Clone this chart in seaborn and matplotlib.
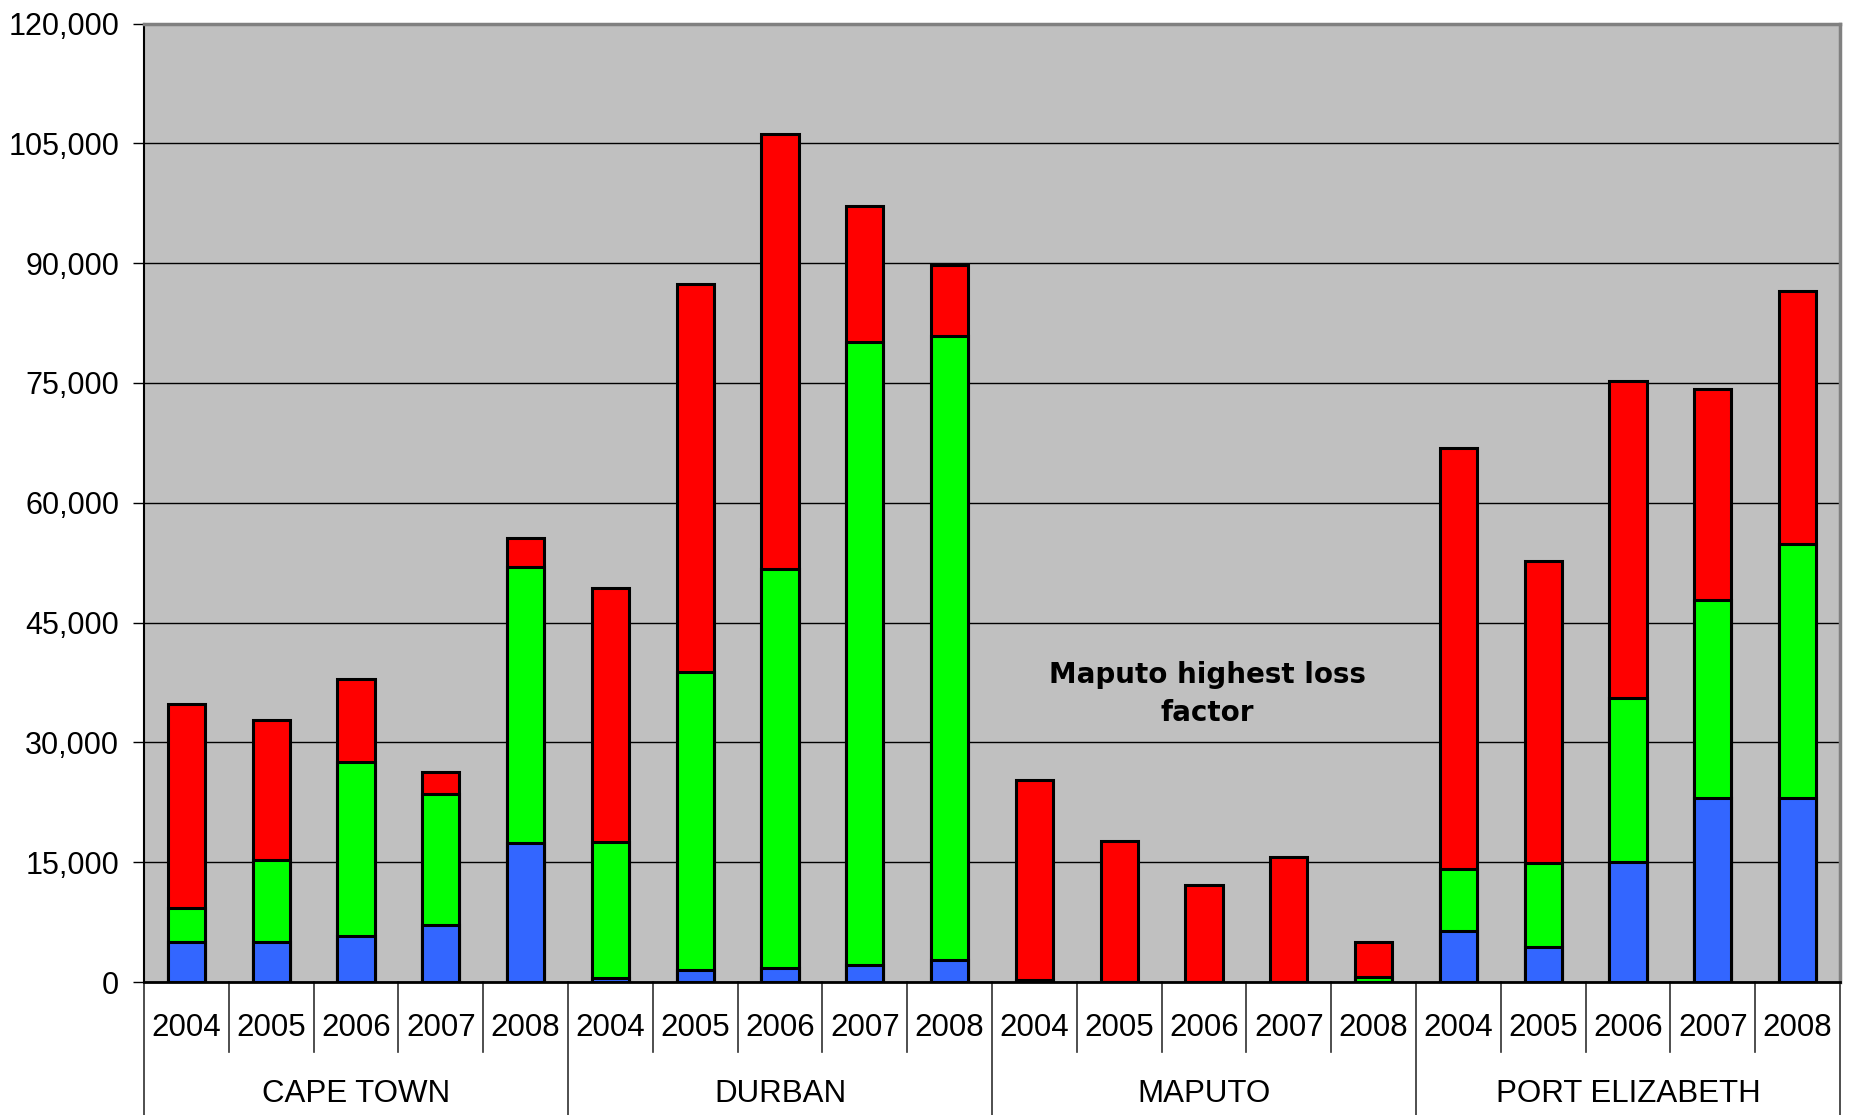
import numpy as np
import pandas as pd
import matplotlib
matplotlib.use("Agg")
import matplotlib.pyplot as plt
import seaborn as sns

plt.rcParams['font.family'] = ['Liberation Sans', 'DejaVu Sans']

cities = ["CAPE TOWN", "DURBAN", "MAPUTO", "PORT ELIZABETH"]
years = ["2004", "2005", "2006", "2007", "2008"]

# segment values (bottom: blue, middle: green, top: red)
blue = [5000, 5000, 5700, 7100, 17400,
        450, 1500, 1800, 2100, 2700,
        0, 0, 0, 0, 0,
        6400, 4400, 15000, 23100, 23100]
green = [4300, 10300, 21800, 16400, 34600,
         17050, 37300, 49900, 78000, 78200,
         250, 0, 0, 0, 600,
         7700, 10500, 20500, 24700, 31800]
red = [25500, 17500, 10400, 2800, 3600,
       31800, 48600, 54500, 17100, 8900,
       25050, 17600, 12100, 15700, 4400,
       52800, 37800, 39800, 26500, 31600]

yticks = [0, 15000, 30000, 45000, 60000, 75000, 90000, 105000, 120000]
annotation = "Maputo highest loss\nfactor"

cats = [f"{c} {y}" for c in cities for y in years]
df = pd.DataFrame({"cat": cats, "blue": blue, "green": green, "red": red})
df["top_green"] = df["blue"] + df["green"]
df["top_red"] = df["top_green"] + df["red"]

fig = plt.figure(figsize=(18.51, 11.15), dpi=100)
ax = fig.add_axes([144 / 1851, 1 - 982 / 1115, (1840 - 144) / 1851, (982 - 23.6) / 1115])
ax.set_facecolor("#C0C0C0")

common = dict(x="cat", order=cats, edgecolor="black", linewidth=2.2, width=0.44,
              saturation=1, errorbar=None, ax=ax, zorder=3)
sns.barplot(data=df, y="top_red", color="#FF0000", **common)
sns.barplot(data=df, y="top_green", color="#00FF00", **common)
sns.barplot(data=df[df["blue"] > 0], y="blue", color="#3366FF", **common)

ax.set_xlim(-0.5, len(cats) - 0.5)
ax.set_ylim(0, 120000)
ax.set_yticks(yticks)
ax.set_yticklabels([f"{v:,}" for v in yticks], fontsize=22)
ax.tick_params(axis="y", length=8, width=1, pad=10, color="black")
ax.set_xticks([])
ax.set_xlabel("")
ax.set_ylabel("")
ax.yaxis.grid(True, color="black", linewidth=1.0)
ax.set_axisbelow(True)

for s in ["top", "right"]:
    ax.spines[s].set_color("#808080")
    ax.spines[s].set_linewidth(2.5)
ax.spines["left"].set_color("black")
ax.spines["left"].set_linewidth(1.5)
ax.spines["bottom"].set_color("black")
ax.spines["bottom"].set_linewidth(2.0)

n = len(cats)
axh = 982 - 23.6
y_year_sep = -(1052 - 982) / axh
y_city_sep = -(1115 - 982) / axh
y_year_lab = -(1028 - 982) / axh
y_city_lab = -(1094 - 982) / axh

for i in range(n + 1):
    x = i / n
    ybot = y_city_sep if i % len(years) == 0 else y_year_sep
    ax.plot([x, x], [0, ybot], transform=ax.transAxes, color="#303030",
            linewidth=1.2, clip_on=False)

for i, c in enumerate(cats):
    ax.text((i + 0.5) / n, y_year_lab, years[i % len(years)], transform=ax.transAxes,
            ha="center", va="center", fontsize=22.5)

for j, c in enumerate(cities):
    ax.text((j * len(years) + len(years) / 2) / n, y_city_lab, c, transform=ax.transAxes,
            ha="center", va="center", fontsize=22.5)

ax.text(12.04, 36100, annotation, ha="center", va="center", fontsize=20,
        fontweight="bold", family=["DejaVu Sans"], linespacing=1.45, zorder=5)

fig.savefig("out.png", dpi=100)
